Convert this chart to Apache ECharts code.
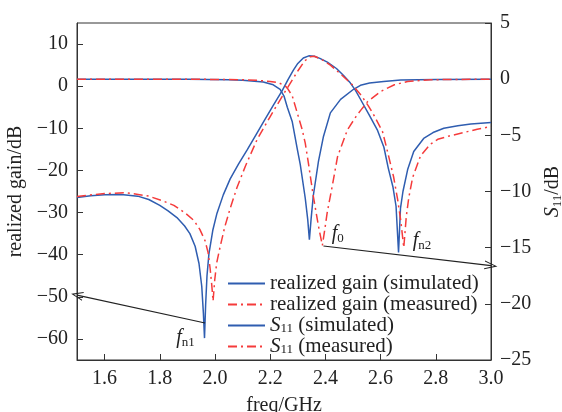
<!DOCTYPE html>
<html>
<head>
<meta charset="utf-8">
<script src="https://cdn.jsdelivr.net/npm/echarts@6/dist/echarts.min.js"></script>
<style>html,body{margin:0;padding:0;background:#fff;}#c{width:562px;height:412px;}</style>
</head>
<body>
<div id="c"></div>
<script>
// ---- data ----
const xTicks = [1.6, 1.8, 2.0, 2.2, 2.4, 2.6, 2.8, 3.0];
const gainTicks = [-60, -50, -40, -30, -20, -10, 0, 10];

const gainSimF = [1.50,1.55,1.60,1.66,1.72,1.76,1.80,1.83,1.862,1.89,1.909,1.928,1.942,1.952,1.958,1.962,1.966,1.971,1.978,1.992,2.007,2.03,2.055,2.085,2.116,2.15,2.18,2.21,2.244,2.265,2.284,2.30,2.32,2.34,2.36,2.38,2.407,2.44,2.465,2.49,2.509,2.527,2.56,2.589,2.612,2.628,2.645,2.656,2.665,2.672,2.681,2.698,2.72,2.756,2.79,2.829,2.88,2.927,3.00];
const gainSim  = [-26.4,-26.0,-25.8,-25.7,-26.1,-26.9,-28.3,-29.6,-31.2,-33.2,-35.0,-38.0,-42.1,-47.5,-54,-59.8,-52,-45,-39.8,-34.2,-30.2,-25.8,-22.0,-18.5,-15.2,-11.4,-8.0,-4.7,-1.0,1.6,3.8,5.4,6.7,7.2,7.1,6.6,5.7,4.2,2.6,0.8,-1.0,-3.1,-7.0,-10.5,-14.5,-19.5,-24.0,-28.5,-39.5,-29,-25,-19.8,-15.5,-12.4,-11.0,-10.0,-9.4,-9.0,-8.6];

const gainMeasF = [1.50,1.55,1.60,1.68,1.76,1.81,1.851,1.89,1.924,1.945,1.964,1.975,1.982,1.988,1.993,1.999,2.006,2.018,2.035,2.055,2.08,2.11,2.153,2.20,2.25,2.30,2.325,2.345,2.36,2.385,2.418,2.46,2.498,2.53,2.555,2.575,2.607,2.625,2.647,2.662,2.673,2.684,2.693,2.702,2.716,2.745,2.78,2.807,2.85,2.902,2.95,3.00];
const gainMeas  = [-26.2,-25.8,-25.5,-25.3,-26.1,-27.2,-28.3,-30.0,-31.9,-34.0,-36.7,-39.5,-43.1,-47,-51,-46,-42,-38.3,-33.5,-29.0,-24.0,-19.0,-12.6,-7.2,-1.7,3.6,6.0,7.0,7.1,6.4,5.0,2.6,0.3,-2.2,-4.6,-6.8,-10.8,-15.5,-21.5,-27.0,-31.9,-38.3,-31,-26.5,-21.7,-16.5,-13.8,-12.6,-11.8,-11.0,-10.2,-9.6];

const s11SimF = [1.50,1.70,1.90,2.05,2.10,2.175,2.211,2.236,2.25,2.262,2.28,2.298,2.309,2.327,2.336,2.342,2.348,2.356,2.375,2.393,2.418,2.455,2.502,2.527,2.56,2.611,2.673,2.80,3.00];
const s11Sim  = [0,0,0,-0.05,-0.1,-0.25,-0.5,-0.9,-1.5,-2.5,-3.8,-6.2,-7.6,-10.6,-12.5,-14.3,-12.5,-10.4,-7.3,-5.1,-3.0,-1.8,-0.9,-0.55,-0.35,-0.2,-0.08,-0.03,0];

const s11MeasF = [1.50,1.90,2.10,2.15,2.20,2.229,2.255,2.265,2.28,2.298,2.316,2.327,2.338,2.356,2.375,2.389,2.397,2.407,2.425,2.444,2.48,2.509,2.527,2.553,2.60,2.65,2.698,2.782,3.00];
const s11Meas  = [0,0,-0.05,-0.1,-0.2,-0.3,-0.6,-0.9,-1.5,-3.0,-4.5,-5.7,-7.4,-10.4,-13.1,-14.8,-13.5,-11.8,-9.5,-6.9,-4.5,-3.4,-2.8,-2.0,-1.1,-0.5,-0.2,-0.05,0];

const seriesNames = ['realized gain (simulated)', 'realized gain (measured)', 'S11 (simulated)', 'S11 (measured)'];

// ---- styling ----
const FONT = 'Liberation Serif';
const TXT = '#222';
const BLUE = '#2f5db0';
const RED = '#f53b3b';
const DASHDOT = [9, 4, 2, 4];
const minus = v => String(v).replace('-', '\u2212');
const zip = (a, b) => a.map((x, i) => [x, b[i]]);
const rich = (size, sub, lh) => ({
  i: { fontFamily: FONT, fontStyle: 'italic', fontSize: size, color: TXT, lineHeight: lh },
  sub: { fontFamily: FONT, fontSize: sub, color: TXT, verticalAlign: 'bottom', lineHeight: lh }
});
const chevron = 'path://M0,10 L5,0 L10,10 L8.8,10 L5,2.4 L1.2,10 Z';

const chart = echarts.init(document.getElementById('c'), null, { renderer: 'canvas' });
chart.setOption({
  animation: false,
  backgroundColor: '#fff',
  grid: { left: 77, right: 71, top: 23, bottom: 52, show: true, borderColor: '#333', borderWidth: 1, containLabel: false, outerBoundsMode: 'none' },
  legend: {
    orient: 'vertical', left: 222, top: 268, itemGap: 0, itemWidth: 37, itemHeight: 12,
    data: seriesNames,
    itemStyle: { opacity: 0 },
    textStyle: { fontFamily: FONT, fontSize: 21, color: TXT, lineHeight: 19, rich: rich(21, 13, 19) },
    formatter: name => name.startsWith('S11') ? '{i|S}{sub|11}' + name.slice(3) : name
  },
  xAxis: {
    type: 'value', min: 1.5, max: 3.0,
    name: 'freq/GHz', nameLocation: 'middle', nameGap: 36,
    nameTextStyle: { fontFamily: FONT, fontSize: 20, color: TXT },
    axisLine: { onZero: false, lineStyle: { color: '#333', width: 1 } },
    axisTick: { inside: true, length: 6, customValues: xTicks, lineStyle: { color: '#333' } },
    axisLabel: { customValues: xTicks, fontFamily: FONT, fontSize: 20, color: TXT, margin: 9, formatter: v => v.toFixed(1) },
    splitLine: { show: false }
  },
  yAxis: [{
    type: 'value', min: -65, max: 15, position: 'left',
    name: 'realized gain/dB', nameLocation: 'middle', nameGap: 42, nameRotate: 90,
    nameTextStyle: { fontFamily: FONT, fontSize: 20, color: TXT },
    axisLine: { show: true, onZero: false, lineStyle: { color: '#333', width: 1 } },
    axisTick: { show: true, inside: true, length: 6, customValues: gainTicks, lineStyle: { color: '#333' } },
    axisLabel: { customValues: gainTicks, fontFamily: FONT, fontSize: 20, color: TXT, margin: 9, formatter: minus },
    splitLine: { show: false }
  }, {
    type: 'value', min: -25, max: 5, interval: 5, position: 'right',
    name: '{i|S}{sub|11}/dB', nameLocation: 'middle', nameGap: 51, nameRotate: 90,
    nameTextStyle: { fontFamily: FONT, fontSize: 20, color: TXT, rich: rich(20, 13, 22) },
    axisLine: { show: true, onZero: false, lineStyle: { color: '#333', width: 1 } },
    axisTick: { show: true, inside: true, length: 6, lineStyle: { color: '#333' } },
    axisLabel: { fontFamily: FONT, fontSize: 20, color: TXT, margin: 9, formatter: minus },
    splitLine: { show: false }
  }],
  series: [
    {
      name: seriesNames[0], type: 'line', yAxisIndex: 0, symbol: 'none', z: 2,
      data: zip(gainSimF, gainSim), lineStyle: { color: BLUE, width: 1.5 }, itemStyle: { color: BLUE },
      markLine: {
        silent: true, symbol: ['none', chevron], symbolSize: [9, 12],
        label: { show: false }, lineStyle: { color: '#222', width: 1.1, type: 'solid' },
        data: [[{ coord: [1.964, -56.2] }, { coord: [1.5, -49.6] }]]
      },
      markPoint: {
        silent: true, symbol: 'circle', symbolSize: 0,
        label: { show: true, position: 'inside', formatter: '{i|f}{sub|n1}', rich: rich(20, 13, 22) },
        data: [{ coord: [1.893, -59.8] }]
      }
    },
    {
      name: seriesNames[1], type: 'line', yAxisIndex: 0, symbol: 'none', z: 3,
      data: zip(gainMeasF, gainMeas), lineStyle: { color: RED, width: 1.5, type: DASHDOT }, itemStyle: { color: RED }
    },
    {
      name: seriesNames[2], type: 'line', yAxisIndex: 1, symbol: 'none', z: 2,
      data: zip(s11SimF, s11Sim), lineStyle: { color: BLUE, width: 1.5 }, itemStyle: { color: BLUE },
      markLine: {
        silent: true, symbol: ['none', chevron], symbolSize: [9, 13],
        label: { show: false }, lineStyle: { color: '#222', width: 1.1, type: 'solid' },
        data: [[{ coord: [2.393, -14.85] }, { coord: [3.0, -16.6] }]]
      },
      markPoint: {
        silent: true, symbol: 'circle', symbolSize: 0,
        label: { show: true, position: 'inside', formatter: p => p.name === 'f0' ? '{i|f}{sub|0}' : '{i|f}{sub|n2}', rich: rich(20, 13, 22) },
        data: [{ name: 'f0', coord: [2.445, -13.8] }, { name: 'fn2', coord: [2.75, -14.4] }]
      }
    },
    {
      name: seriesNames[3], type: 'line', yAxisIndex: 1, symbol: 'none', z: 3,
      data: zip(s11MeasF, s11Meas), lineStyle: { color: RED, width: 1.5, type: DASHDOT }, itemStyle: { color: RED }
    }
  ]
});
</script>
</body>
</html>
